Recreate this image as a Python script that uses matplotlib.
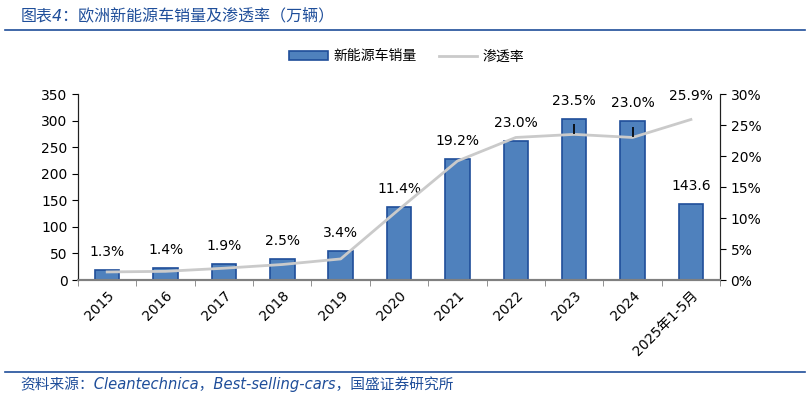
import matplotlib.pyplot as plt
import numpy as np

plt.rcParams['font.family'] = ['DejaVu Sans', 'Noto Sans CJK SC']

years = ['2015', '2016', '2017', '2018', '2019', '2020', '2021', '2022', '2023', '2024', '2025年1-5月']
sales = [19, 23, 30, 39, 55, 137, 228, 261, 303, 300, 143.6]
rate = [1.3, 1.4, 1.9, 2.5, 3.4, 11.4, 19.2, 23.0, 23.5, 23.0, 25.9]

fig = plt.figure(figsize=(8.1, 3.97), dpi=100)
ax = fig.add_axes([0.0963, 0.2947, 0.7927, 0.4683])
ax2 = ax.twinx()

x = np.arange(len(years))
ax.bar(x, sales, width=0.42, color='#4F81BD', edgecolor='#1F4E9A', linewidth=1.2, zorder=2,
       label='新能源车销量')
ax2.plot(x, rate, color='#CACACA', linewidth=2, zorder=3, label='渗透率')

ax.set_xlim(-0.5, len(years) - 0.5)
ax.set_ylim(0, 350)
ax.set_yticks(np.arange(0, 351, 50))
ax2.set_ylim(0, 30)
ax2.set_yticks(np.arange(0, 31, 5))
ax2.set_yticklabels([f'{v}%' for v in range(0, 31, 5)])

ax.set_xticks(x)
ax.set_xticklabels(years, rotation=45, ha='right', rotation_mode='anchor')
ax.set_xticks(np.arange(-0.5, len(years), 1), minor=True)
ax.tick_params(axis='x', which='major', length=0, labelsize=10, pad=6)
ax.tick_params(axis='x', which='minor', length=4, direction='out', color='#808080')
ax.tick_params(axis='y', labelsize=10, length=4, direction='out')
ax2.tick_params(axis='y', labelsize=10, length=4, direction='out')

for a in (ax, ax2):
    a.spines['top'].set_visible(False)
    a.spines['left'].set_color('#202020')
    a.spines['right'].set_color('#202020')
    a.spines['bottom'].set_color('#808080')
    a.spines['bottom'].set_linewidth(1.5)

# percentage labels above bars
for i in range(len(years) - 1):
    ax.annotate(f'{rate[i]:.1f}%', (x[i], sales[i]), xytext=(0, 8), textcoords='offset points',
                ha='center', va='bottom', fontsize=10)
ax.annotate(f'{sales[-1]:.1f}', (x[-1], sales[-1]), xytext=(0, 8), textcoords='offset points',
            ha='center', va='bottom', fontsize=10)
ax2.annotate(f'{rate[-1]:.1f}%', (x[-1], rate[-1]), xytext=(0, 12), textcoords='offset points',
             ha='center', va='bottom', fontsize=10)

# small leader marks on 2023 and 2024
for i in (8, 9):
    ax2.vlines(x[i], rate[i] + 0.1, rate[i] + 1.7, color='black', linewidth=1.2, zorder=4)

h1, l1 = ax.get_legend_handles_labels()
h2, l2 = ax2.get_legend_handles_labels()
fig.legend(h1 + h2, l1 + l2, loc='center', bbox_to_anchor=(0.502, 0.858), ncol=2, frameon=False,
           fontsize=10, handlelength=2.8, handleheight=0.6, columnspacing=1.6, handletextpad=0.4)

blue = '#1F4E9A'
fig.text(0.025, 0.962, '图表4：欧洲新能源车销量及渗透率（万辆）', fontsize=11.5, color=blue,
         style='italic', va='center', family=['DejaVu Sans', 'Noto Sans CJK SC'])
fig.add_artist(plt.Line2D([0.006, 0.994], [0.924, 0.924], color=blue, linewidth=1.2))
fig.add_artist(plt.Line2D([0.006, 0.994], [0.063, 0.063], color=blue, linewidth=1.2))
fig.text(0.025, 0.033, '资料来源：Cleantechnica，Best-selling-cars，国盛证券研究所', fontsize=10.6,
         color=blue, style='italic', va='center', family=['DejaVu Sans', 'Noto Sans CJK SC'])

fig.savefig('out.png', dpi=100)
